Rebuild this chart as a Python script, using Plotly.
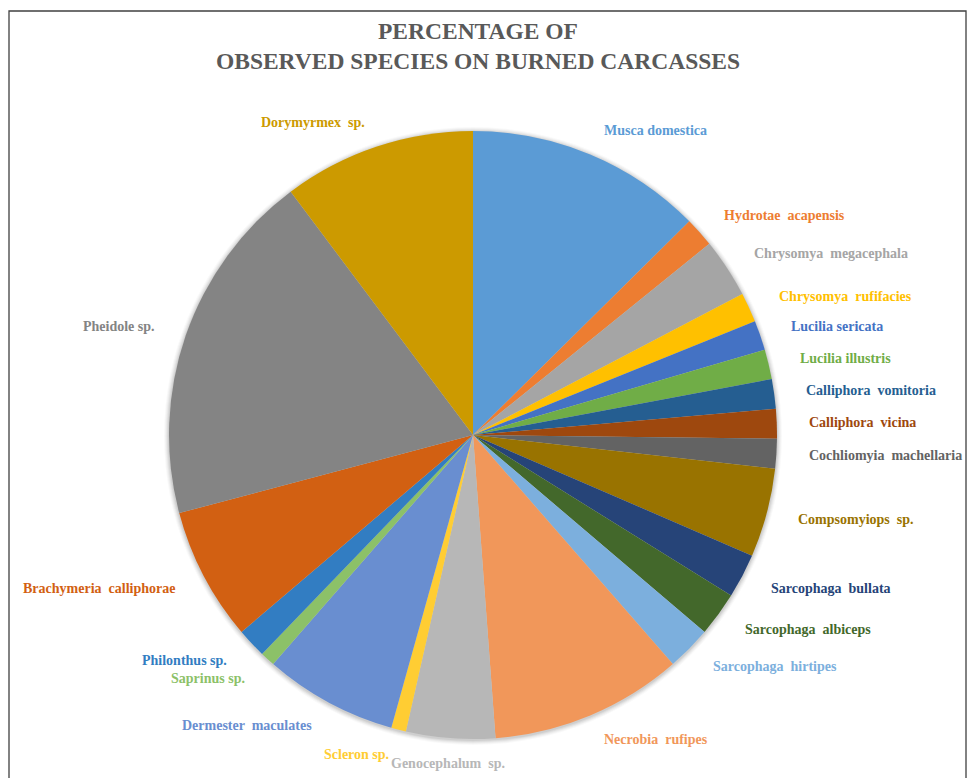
import numpy as np
import plotly.graph_objects as go

NB = "\u00a0"
species = [
    "Musca domestica", "Hydrotae " + NB + "acapensis", "Chrysomya " + NB + "megacephala",
    "Chrysomya " + NB + "rufifacies", "Lucilia sericata", "Lucilia illustris",
    "Calliphora " + NB + "vomitoria", "Calliphora " + NB + "vicina",
    "Cochliomyia " + NB + "machellaria", "Compsomyiops " + NB + "sp.",
    "Sarcophaga " + NB + "bullata", "Sarcophaga " + NB + "albiceps",
    "Sarcophaga " + NB + "hirtipes", "Necrobia " + NB + "rufipes",
    "Genocephalum " + NB + "sp.", "Scleron sp.", "Dermester " + NB + "maculates",
    "Saprinus sp.", "Philonthus sp.", "Brachymeria " + NB + "calliphorae",
    "Pheidole sp.", "Dorymyrmex " + NB + "sp.",
]
counts = [16, 2, 4, 2, 2, 2, 2, 2, 2, 6, 3, 3, 3, 13, 6, 1, 9, 1, 2, 9, 24, 13]
colors = [
    "#5B9BD5", "#ED7D31", "#A5A5A5", "#FFC000", "#4472C4", "#70AD47",
    "#255E91", "#9E480E", "#636363", "#997300", "#264478", "#43682B",
    "#7CAFDD", "#F1975A", "#B7B7B7", "#FFCD33", "#698ED0", "#8CC168",
    "#327DC2", "#D26012", "#848484", "#CC9A00",
]

W, H = 971, 778
CX, CY, R = 473.0, 435.0, 304.0  # pie centre / radius in px

fig = go.Figure()

# soft glow/shadow behind the pie
for k, a in [(5, 0.025), (4, 0.03), (3, 0.04), (2, 0.05), (1, 0.06)]:
    rr = R + k
    fig.add_shape(type="circle", xref="paper", yref="paper", layer="below",
                  x0=(CX - rr) / W, x1=(CX + rr) / W,
                  y0=1 - (CY + 1 + rr) / H, y1=1 - (CY + 1 - rr) / H,
                  fillcolor=f"rgba(0,0,0,{a})", line=dict(width=0))

fig.add_trace(go.Pie(
    labels=species, values=counts, sort=False, direction="clockwise", rotation=0,
    marker=dict(colors=colors, line=dict(width=0)),
    textinfo="none", hoverinfo="label+percent", showlegend=False,
    domain=dict(x=[(CX - R) / W, (CX + R) / W], y=[1 - (CY + R) / H, 1 - (CY - R) / H]),
))

# data labels placed along each slice's mid-angle
vals = np.array(counts, dtype=float)
cum = np.cumsum(vals)
mids = (cum - vals / 2) / vals.sum() * 2 * np.pi
for name, col, th in zip(species, colors, mids):
    px = CX + 1.1 * R * np.sin(th)
    py = CY - 1.085 * R * np.cos(th)
    s = np.sin(th)
    xa = "left" if s > 0.1 else ("right" if s < -0.1 else "center")
    fig.add_annotation(x=px / W, y=1 - py / H, xref="paper", yref="paper",
                       text=name, showarrow=False, xanchor=xa, yanchor="middle",
                       font=dict(family="Liberation Serif", size=14, color=col, weight="bold"))

# chart border
fig.add_shape(type="rect", xref="paper", yref="paper", x0=9 / W, x1=966 / W,
              y0=-0.05, y1=1 - 11 / H, line=dict(color="#404040", width=1.3),
              fillcolor="rgba(0,0,0,0)", layer="above")

fig.update_layout(
    width=W, height=H,
    margin=dict(l=0, r=0, t=0, b=0),
    paper_bgcolor="white", plot_bgcolor="white",
    title=dict(text="PERCENTAGE OF<br>OBSERVED SPECIES ON BURNED CARCASSES",
               x=478 / W, xanchor="center", y=1 - 38.5 / H, yanchor="middle",
               font=dict(family="Liberation Serif", size=23.5, color="#595959", weight="bold")),
)

fig.write_html("out.html")
